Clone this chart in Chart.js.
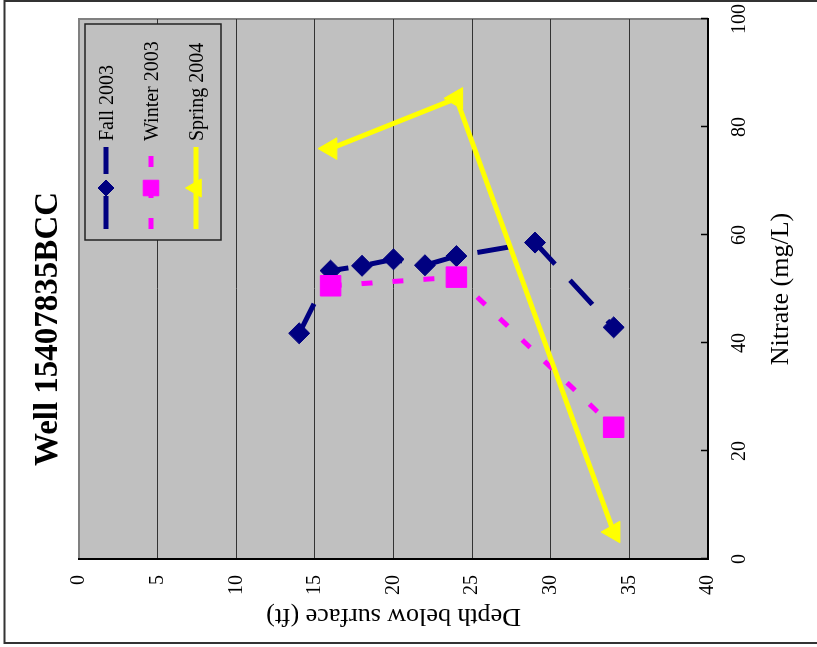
<!DOCTYPE html>
<html lang="en">
<head>
<meta charset="UTF-8">
<title>Well 15407835BCC</title>
<script src="https://cdn.jsdelivr.net/npm/chart.js@4.4.6/dist/chart.umd.min.js"></script>
<style>
  body { margin: 0; background: #fff; overflow: hidden; width: 817px; height: 647px; position: relative; }
  /* profile is drawn upright (depth down the side) and then turned a quarter to the left */
  #well-chart { position: absolute; left: 85px; top: -85px; transform: rotate(-90deg); }
</style>
</head>
<body>
<canvas id="well-chart" width="647" height="817"></canvas>
<script>
const seriesNames = ['Fall 2003', 'Winter 2003', 'Spring 2004'];

const fallDepth = [14, 16, 18, 20, 22, 24, 29, 34];
const fallNitrate = [41.8, 53.4, 54.3, 55.5, 54.4, 56.1, 58.6, 42.9];

const winterDepth = [16, 24, 34];
const winterNitrate = [50.6, 52.2, 24.4];

const springDepth = [16, 24, 34];
const springNitrate = [76.0, 85.3, 5.0];

const depthTicks = [0, 5, 10, 15, 20, 25, 30, 35, 40];
const nitrateTicks = [0, 20, 40, 60, 80, 100];

Chart.defaults.font.family = '"Liberation Serif", "Times New Roman", serif';
Chart.defaults.color = '#000';

function toPoints(depth, nitrate) {
  return depth.map((d, i) => ({ x: nitrate[i], y: d }));
}

// marker sizes used in the key (smaller than on the plot)
const legendMarkerRadius = [8, 11, 10.5];

// white page, outer frame, grey plot area
const wellFrame = {
  id: 'wellFrame',
  beforeDraw(chart) {
    const { ctx, chartArea: a } = chart;
    ctx.save();
    ctx.fillStyle = '#fff';
    ctx.fillRect(0, 0, chart.width, chart.height);
    ctx.strokeStyle = '#333';
    ctx.lineWidth = 2;
    ctx.strokeRect(4, 4.5, 642, 900);
    ctx.fillStyle = '#c0c0c0';
    ctx.fillRect(a.left, a.top, a.width, a.height);
    ctx.strokeStyle = '#808080';
    ctx.strokeRect(a.left, a.top, a.width, a.height);
    ctx.restore();
  },
  // nitrate ticks point into the plot
  beforeDatasetsDraw(chart) {
    const { ctx, scales: { x } } = chart;
    ctx.save();
    ctx.strokeStyle = '#000';
    ctx.lineWidth = 1.5;
    x.ticks.forEach(t => {
      const px = Math.round(x.getPixelForValue(t.value)) + 0.5;
      ctx.beginPath();
      ctx.moveTo(px, x.top);
      ctx.lineTo(px, x.top - 7);
      ctx.stroke();
    });
    ctx.restore();
  }
};

// boxed key in the upper right of the plot
const wellLegend = {
  id: 'wellLegend',
  afterDatasetsDraw(chart) {
    const { ctx, chartArea: a } = chart;
    const x0 = a.right - 221, y0 = a.top + 6;
    ctx.save();
    ctx.fillStyle = '#c0c0c0';
    ctx.fillRect(x0, y0, 216, 136);
    ctx.strokeStyle = '#222';
    ctx.lineWidth = 1.5;
    ctx.strokeRect(x0, y0, 216, 136);
    chart.data.datasets.forEach((ds, i) => {
      const y = y0 + 21 + i * 45;
      ctx.setLineDash(ds.borderDash || []);
      ctx.lineWidth = ds.borderWidth;
      ctx.strokeStyle = ds.borderColor;
      ctx.beginPath();
      ctx.moveTo(x0 + 11, y);
      ctx.lineTo(x0 + 93, y);
      ctx.stroke();
      ctx.setLineDash([]);
      ctx.fillStyle = ds.pointBackgroundColor;
      ctx.strokeStyle = ds.borderColor;
      ctx.lineWidth = 1;
      Chart.helpers.drawPoint(ctx, { pointStyle: ds.pointStyle, radius: legendMarkerRadius[i], rotation: 0, borderWidth: 1 }, x0 + 52, y);
      ctx.fillStyle = '#000';
      ctx.font = '20px "Liberation Serif"';
      ctx.textBaseline = 'middle';
      ctx.textAlign = 'left';
      ctx.fillText(ds.label, x0 + 99, y + 2);
    });
    ctx.restore();
  }
};

const edgeTick = v => v === depthTicks[0] || v === depthTicks[depthTicks.length - 1];

new Chart(document.getElementById('well-chart'), {
  type: 'scatter',
  data: {
    datasets: [
      {
        label: seriesNames[0],
        data: toPoints(fallDepth, fallNitrate),
        showLine: true,
        borderColor: '#000080',
        pointBackgroundColor: '#000080',
        pointBorderColor: '#000080',
        borderWidth: 5,
        borderDash: [33, 22],
        pointStyle: 'rectRot',
        pointRadius: 10.5,
        pointBorderWidth: 1,
        order: 3
      },
      {
        label: seriesNames[1],
        data: toPoints(winterDepth, winterNitrate),
        showLine: true,
        borderColor: '#ff00ff',
        pointBackgroundColor: '#ff00ff',
        pointBorderColor: '#ff00ff',
        borderWidth: 5,
        borderDash: [11, 20],
        pointStyle: 'rect',
        pointRadius: 14.5,
        pointBorderWidth: 1,
        order: 2
      },
      {
        label: seriesNames[2],
        data: toPoints(springDepth, springNitrate),
        showLine: true,
        borderColor: '#ffff00',
        pointBackgroundColor: '#ffff00',
        pointBorderColor: '#ffff00',
        borderWidth: 5,
        pointStyle: 'triangle',
        pointRadius: 12.5,
        pointBorderWidth: 1,
        order: 1
      }
    ]
  },
  options: {
    responsive: false,
    animation: false,
    devicePixelRatio: 1,
    layout: { padding: { left: 8, right: 19, top: 0, bottom: 0 } },
    scales: {
      x: {
        type: 'linear',
        position: 'bottom',
        min: 0,
        max: 100,
        afterBuildTicks: s => { s.ticks = nitrateTicks.map(v => ({ value: v })); },
        afterFit: s => { s.height = 109; s.paddingLeft = 0; s.paddingRight = 0; },
        grid: { drawOnChartArea: false, drawTicks: false },
        border: { color: '#000', width: 2 },
        ticks: { font: { size: 20 }, padding: 20, maxRotation: 0 },
        title: { display: true, text: 'Nitrate (mg/L)', font: { size: 26 }, padding: { top: 0, bottom: 20 } }
      },
      y: {
        type: 'linear',
        position: 'left',
        reverse: true,
        min: 0,
        max: 40,
        afterBuildTicks: s => { s.ticks = depthTicks.map(v => ({ value: v })); },
        afterFit: s => { s.width = 80; s.paddingTop = 0; s.paddingBottom = 0; },
        grid: {
          color: c => (c.tick && edgeTick(c.tick.value)) ? 'rgba(0,0,0,0)' : '#333',
          lineWidth: 1,
          drawTicks: false
        },
        border: { color: '#000', width: 2 },
        ticks: { font: { size: 20 }, padding: 16 },
        title: { display: true, text: 'Depth below surface (ft)', font: { size: 26 }, padding: { top: 8, bottom: 0 } }
      }
    },
    plugins: {
      legend: { display: false },
      tooltip: { enabled: false },
      title: {
        display: true,
        text: 'Well 15407835BCC',
        font: { size: 33, weight: 'bold' },
        padding: { top: 29, bottom: 10.4 }
      }
    }
  },
  plugins: [wellFrame, wellLegend]
});
</script>
</body>
</html>
